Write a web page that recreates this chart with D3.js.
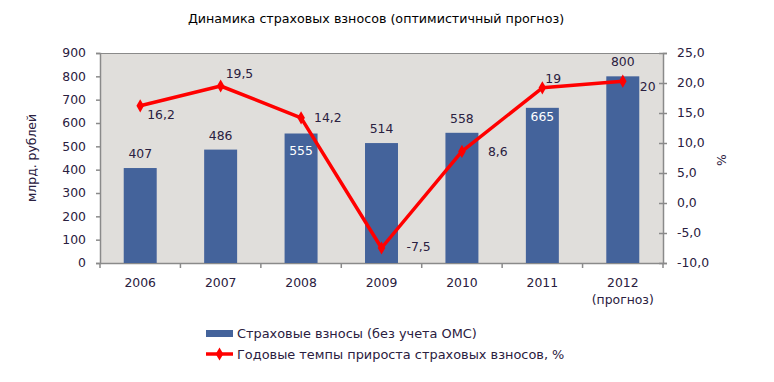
<!DOCTYPE html>
<html><head><meta charset="utf-8">
<script src="https://cdn.jsdelivr.net/npm/d3@7/dist/d3.min.js"></script>
<style>
body{margin:0;background:#fff;}
text{font-family:"DejaVu Sans",Verdana,sans-serif;}
</style></head>
<body><svg id="c" width="774" height="382"></svg>
<script>
const categories = ["2006","2007","2008","2009","2010","2011","2012"];
const categorySub = ["","","","","","","(прогноз)"];
const contributions = [407,486,555,514,558,665,800];
const growth = [16.2,19.5,14.2,-7.5,8.6,19.2,20.3];
const growthLabels = ["16,2","19,5","14,2","-7,5","8,6","19","20"];
const leftTicks = [0,100,200,300,400,500,600,700,800,900];
const rightTicks = [-10,-5,0,5,10,15,20,25];
const title = "Динамика страховых взносов (оптимистичный прогноз)";
const seriesNames = ["Страховые взносы (без учета ОМС)","Годовые темпы прироста страховых взносов, %"];

const svg = d3.select("#c");
const m = {l:100, r:663, t:53, b:263};
const txt = "#2a2040";
const fs = 12.4;
const x = d3.scaleBand().domain(categories).range([m.l,m.r]).paddingInner(0.59).paddingOuter(0.295);
const band = d3.scaleBand().domain(categories).range([m.l,m.r]);
const yL = d3.scaleLinear().domain([0,900]).range([m.b,m.t]);
const yR = d3.scaleLinear().domain([-10,25]).range([m.b,m.t]);

svg.append("text").attr("x",376).attr("y",23).attr("text-anchor","middle")
  .attr("font-size",12.7).attr("fill","#000").text(title);

svg.append("rect").attr("x",m.l).attr("y",m.t).attr("width",m.r-m.l).attr("height",m.b-m.t).attr("fill","#e0dedb");
svg.append("line").attr("x1",m.l).attr("x2",m.r).attr("y1",m.t+0.5).attr("y2",m.t+0.5).attr("stroke","#8a8a8a");

// left axis
const gl = svg.append("g").attr("transform",`translate(${m.l},0)`)
  .call(d3.axisLeft(yL).tickValues(leftTicks).tickSize(4).tickPadding(10));
gl.select(".domain").attr("stroke","#8a8a8a").attr("stroke-width",1.5);
gl.selectAll(".tick line").attr("stroke","#8a8a8a").attr("stroke-width",1.5);
gl.selectAll("text").attr("font-size",fs).attr("fill",txt);

// right axis
const gr = svg.append("g").attr("transform",`translate(${m.r},0)`)
  .call(d3.axisRight(yR).tickValues(rightTicks).tickSize(4).tickPadding(10)
    .tickFormat(d=>d3.format(".1f")(d).replace(".",",").replace("−","-")));
gr.select(".domain").attr("stroke","#8a8a8a").attr("stroke-width",1.5);
gr.selectAll(".tick line").attr("stroke","#8a8a8a").attr("stroke-width",1.5).attr("x1",-4);
gr.selectAll("text").attr("font-size",fs).attr("fill",txt);

// bottom axis
const gb = svg.append("g").attr("transform",`translate(0,${m.b})`)
  .call(d3.axisBottom(band).tickSize(0).tickPadding(15));
gb.select(".domain").attr("stroke","#8a8a8a").attr("stroke-width",1.5);
gb.selectAll("text").attr("font-size",fs).attr("fill",txt);
gb.selectAll(".tick").each(function(d,i){
  const s = categorySub[i];
  if(s) d3.select(this).append("text").attr("y",32).attr("dy","0.71em").attr("text-anchor","middle")
    .attr("font-size",fs).attr("fill",txt).text(s);
});
// separator ticks
const seps = categories.map((c,i)=>band(c)).concat([m.r]);
svg.append("g").selectAll("line").data(seps).join("line")
  .attr("x1",d=>d).attr("x2",d=>d).attr("y1",m.b).attr("y2",m.b+5)
  .attr("stroke","#8a8a8a").attr("stroke-width",1.5);

// axis titles
svg.append("text").attr("transform","translate(36,158) rotate(-90)").attr("text-anchor","middle")
  .attr("font-size",fs).attr("fill",txt).text("млрд. рублей");
svg.append("text").attr("transform","translate(726,160) rotate(-90)").attr("text-anchor","middle")
  .attr("font-size",fs).attr("fill",txt).text("%");

// bars
const barColor = "#44639b";
svg.append("g").selectAll("rect").data(contributions).join("rect")
  .attr("x",(d,i)=>x(categories[i])).attr("width",x.bandwidth())
  .attr("y",d=>yL(d)).attr("height",d=>m.b-yL(d)).attr("fill",barColor);

// bar labels
const barLabelDy = [-10,-10,21,-10,-10,13,-10];
svg.append("g").selectAll("text").data(contributions).join("text")
  .attr("x",(d,i)=>x(categories[i])+x.bandwidth()/2)
  .attr("y",(d,i)=>yL(d)+barLabelDy[i]).attr("text-anchor","middle")
  .attr("font-size",fs).attr("fill",(d,i)=>barLabelDy[i]>0?"#fff":txt).text(d=>d);

// line
const cx = (i)=>band(categories[i])+band.bandwidth()/2;
const line = d3.line().x((d,i)=>cx(i)).y(d=>yR(d));
svg.append("path").datum(growth).attr("d",line).attr("fill","none")
  .attr("stroke","#ff0000").attr("stroke-width",3.5).attr("stroke-linejoin","round");
const diamond = d3.symbol().type(d3.symbolDiamond).size(50);
svg.append("g").selectAll("path").data(growth).join("path")
  .attr("transform",(d,i)=>`translate(${cx(i)},${yR(d)})`).attr("d",diamond).attr("fill","#ff0000");

const lineLabelOff = [[7,13],[5,-8],[13,4],[25,3],[26,5],[3,-5],[17,10]];
svg.append("g").selectAll("text").data(growth).join("text")
  .attr("x",(d,i)=>cx(i)+lineLabelOff[i][0]).attr("y",(d,i)=>yR(d)+lineLabelOff[i][1])
  .attr("font-size",fs).attr("fill",txt).text((d,i)=>growthLabels[i]);

// legend
const lg = svg.append("g");
lg.append("rect").attr("x",206).attr("y",330).attr("width",27).attr("height",7).attr("fill",barColor);
lg.append("text").attr("x",237).attr("y",338).attr("font-size",12.9).attr("fill",txt).text(seriesNames[0]);
lg.append("line").attr("x1",206).attr("x2",233).attr("y1",354).attr("y2",354).attr("stroke","#ff0000").attr("stroke-width",3.5);
lg.append("path").attr("transform","translate(219.5,354)").attr("d",diamond).attr("fill","#ff0000");
lg.append("text").attr("x",237).attr("y",359).attr("font-size",12.9).attr("fill",txt).text(seriesNames[1]);
</script></body></html>
